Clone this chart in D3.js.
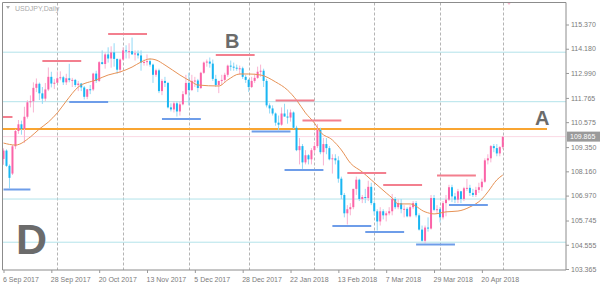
<!DOCTYPE html>
<html>
<head>
<meta charset="utf-8">
<script src="https://cdnjs.cloudflare.com/ajax/libs/d3/7.8.5/d3.min.js"></script>
<style>
body{margin:0;background:#fff;}
text{font-family:"Liberation Sans",Arial,sans-serif;}
</style>
</head>
<body>
<div id="plot"></div>
<script>
// USDJPY daily, 6 Sep 2017 .. 1 May 2018 (one entry per trading day)
var open = [108.77,109.18,108.43,108.05,109.39,110.14,110.47,110.24,110.84,111.55,111.60,112.26,112.46,111.99,111.73,112.18,112.80,112.47,
  112.51,112.73,112.78,112.53,112.73,112.64,112.65,112.40,112.47,112.28,111.82,112.19,112.18,112.96,112.60,113.52,113.43,113.90,113.70,114.00,113.68,113.15,
  113.65,114.10,114.05,114.06,113.90,113.95,113.85,113.50,113.53,113.57,113.40,112.90,113.12,112.10,112.60,112.50,111.30,111.20,111.50,111.10,111.45,111.95,
  112.50,112.15,112.60,112.62,112.25,113.00,113.50,113.55,113.45,112.70,112.40,112.60,112.65,112.90,113.35,113.30,113.25,113.20,113.22,112.80,
  112.65,112.30,112.60,112.75,113.05,113.10,112.60,111.40,111.25,111.00,110.55,110.45,111.00,110.85,110.80,111.05,110.30,109.20,109.40,108.60,108.95,108.75,
  109.20,109.40,110.20,109.10,109.50,109.30,108.75,108.80,108.70,107.80,107.00,106.10,106.30,106.40,107.30,107.75,106.80,106.90,106.85,107.40,
  106.60,106.20,105.70,106.20,106.00,106.10,106.20,106.80,106.40,106.60,106.30,106.32,105.95,106.40,106.60,106.00,105.30,104.75,105.40,105.35,106.85,106.27,
  106.30,105.90,106.60,106.77,107.38,106.93,106.77,107.18,106.80,107.33,107.35,107.10,107.00,107.25,107.38,107.65,108.70,108.80,109.40,109.30,109.04,
  109.35];
var high = [109.29,109.24,108.50,109.46,110.23,110.68,110.65,111.33,111.65,111.89,112.53,112.72,112.52,112.30,112.50,113.26,113.05,112.70,
  113.07,113.07,112.85,112.95,113.44,112.75,112.70,112.60,112.50,112.35,112.20,112.40,113.00,113.10,113.57,114.10,114.00,114.25,114.30,114.45,113.70,113.70,
  114.25,114.35,114.45,114.73,114.10,114.10,114.10,113.65,113.90,113.70,113.45,113.20,113.20,112.70,112.80,112.55,111.50,111.60,111.60,111.60,112.10,112.90,
  113.00,112.90,112.80,112.70,113.05,113.55,113.65,113.75,113.65,112.90,112.60,112.90,113.00,113.40,113.60,113.50,113.40,113.35,113.30,112.90,
  112.70,112.80,112.95,113.30,113.40,113.20,112.70,111.50,111.40,111.05,110.90,111.30,111.48,111.20,111.20,111.10,110.40,109.80,109.50,109.20,109.00,109.30,
  109.60,110.48,110.30,109.80,109.80,109.40,109.00,109.00,108.90,107.90,107.10,106.50,106.60,107.30,107.90,107.80,107.00,107.30,107.70,107.60,
  106.70,106.30,106.40,106.30,106.20,106.40,107.05,106.90,106.80,106.80,106.50,106.40,106.50,106.70,106.70,106.10,105.50,105.50,105.90,107.00,107.00,106.50,
  106.40,106.70,107.00,107.50,107.50,107.10,107.30,107.20,107.40,107.78,107.50,107.30,107.40,107.60,107.80,108.80,109.00,109.45,109.50,109.50,109.40,
  109.90];
var low = [108.48,108.38,107.32,107.98,109.25,110.00,109.96,109.56,110.75,111.30,111.05,112.05,111.66,111.47,111.60,112.10,112.28,112.20,
  112.50,112.63,112.40,112.40,112.53,112.30,112.30,112.10,112.10,111.69,111.70,111.95,112.10,112.50,112.55,113.40,113.20,113.50,113.25,113.30,112.95,113.00,
  113.60,113.70,113.70,113.90,113.60,113.70,113.10,113.35,113.35,113.30,112.50,112.80,112.00,111.90,112.30,111.25,111.10,111.05,110.85,110.90,111.40,111.90,
  111.40,112.10,112.30,112.05,112.20,112.95,113.30,113.25,112.60,112.30,112.00,112.40,112.50,112.80,113.10,113.10,113.10,112.90,112.70,112.50,
  112.05,112.25,112.50,112.70,112.80,112.30,111.30,111.00,110.90,110.40,110.18,110.40,110.85,110.50,110.60,110.25,109.15,108.50,108.28,108.50,108.50,108.50,
  109.05,109.30,109.00,108.45,109.00,108.70,108.05,108.50,107.60,106.80,105.90,105.55,106.00,106.30,107.00,106.70,106.60,106.60,106.70,106.50,
  106.00,105.25,105.50,105.80,105.70,106.00,106.00,106.30,106.30,106.10,105.90,105.90,105.90,106.30,105.90,105.25,104.70,104.63,105.20,105.30,106.20,106.10,
  105.65,105.80,105.95,106.70,106.65,106.60,106.60,106.60,106.70,107.20,106.95,106.90,106.90,107.10,107.20,107.60,108.50,108.60,109.10,108.90,108.90,
  109.25];
var close = [109.18,108.43,107.84,109.39,110.14,110.47,110.24,110.84,111.55,111.60,112.26,112.46,111.99,111.73,112.18,112.80,112.47,112.51,
  112.73,112.78,112.53,112.73,112.64,112.65,112.40,112.47,112.28,111.82,112.19,112.18,112.96,112.60,113.52,113.43,113.90,113.70,114.00,113.68,113.15,113.65,
  114.10,114.05,114.06,113.90,113.95,113.85,113.50,113.53,113.57,113.40,112.90,113.12,112.10,112.60,112.50,111.30,111.20,111.50,111.10,111.45,111.95,112.50,
  112.15,112.60,112.62,112.25,113.00,113.50,113.55,113.45,112.70,112.40,112.60,112.65,112.90,113.35,113.30,113.25,113.20,113.22,112.80,112.65,
  112.30,112.60,112.75,113.05,113.10,112.60,111.40,111.25,111.00,110.55,110.45,111.00,110.85,110.80,111.05,110.30,109.20,109.40,108.60,108.95,108.75,109.20,
  109.40,110.20,109.10,109.50,109.30,108.75,108.80,108.70,107.80,107.00,106.10,106.30,106.40,107.30,107.75,106.80,106.90,106.85,107.40,106.60,
  106.20,105.70,106.20,106.00,106.10,106.20,106.80,106.40,106.60,106.30,106.32,105.95,106.40,106.60,106.00,105.30,104.75,105.40,105.35,106.85,106.27,106.30,
  105.90,106.60,106.77,107.38,106.93,106.77,107.18,106.80,107.33,107.35,107.10,107.00,107.25,107.38,107.65,108.70,108.80,109.40,109.30,109.04,109.35,
  109.85];

// moving average: [bar index, value]
var maIdx = [0,4,9,12,15,18,21,25,31,35,39,43,46,49,51,54,59,63,65,72,75,79,82,86,91,95,98,101,104,106,110,113,116,120,123,128,130,132,136,141,144,148,152,156,160,162,165,167];
var maVal = [109.55,109.45,109.85,110.24,110.58,111.03,111.61,112.30,112.65,112.89,113.04,113.28,113.53,113.68,113.63,113.38,112.89,112.55,112.40,112.35,112.65,112.94,112.94,112.89,112.55,112.15,111.66,111.03,110.53,110.09,109.70,109.21,108.57,108.13,107.74,107.10,106.85,106.56,106.56,106.17,106.07,106.17,106.21,106.41,106.80,107.15,107.74,107.98];

// resistance (red) and support (blue) segments: start bar, end bar, price
var resStart = [-1,13,35,71,91,100,115,127,145];
var resEnd   = [3,26,48,84,104,113,128,140,158];
var resPrice = [110.83,113.58,114.90,113.87,111.64,110.66,108.08,107.49,107.95];
var supStart = [0,22,53,83,94,110,121,138,149];
var supEnd   = [9,35,66,96,107,123,134,151,162];
var supPrice = [107.27,111.57,110.73,110.12,108.23,105.48,105.18,104.57,106.51];

var hLines = [114.01,111.58,106.80,104.68];
var keyLevel = 110.24;
var lastPrice = 109.865;

var yTicks = [115.370,114.180,112.990,111.765,110.575,109.350,108.160,106.970,105.745,104.555,103.365];
var xTickIdx = [0,16,32,48,64,80,96,112,128,144,160];
var xTickText = ['6 Sep 2017','28 Sep 2017','20 Oct 2017','13 Nov 2017','5 Dec 2017','28 Dec 2017','22 Jan 2018','13 Feb 2018','7 Mar 2018','29 Mar 2018','20 Apr 2018'];
var monthIdx = [18,40,62,82,104,124,146,167];

var W = 600, H = 289;
var box = {l:2.5, t:2.5, r:566, b:270};

var svg = d3.select('#plot').append('svg')
  .attr('width', W).attr('height', H)
  .style('display','block');
svg.append('rect').attr('width',W).attr('height',H).attr('fill','#fff');

var x = d3.scaleLinear().domain([0,167]).range([3.5,502.8]);
var y = d3.scaleLinear().domain([103.365,115.37]).range([269,24.5]);

var plot = svg.append('g');
svg.append('clipPath').attr('id','clip').append('rect')
  .attr('x',box.l).attr('y',box.t).attr('width',box.r-box.l).attr('height',box.b-box.t);
plot.attr('clip-path','url(#clip)');

// month grid
plot.selectAll('.vgrid').data(monthIdx).enter().append('line')
  .attr('x1',function(d){return Math.round(x(d))+0.5;})
  .attr('x2',function(d){return Math.round(x(d))+0.5;})
  .attr('y1',box.t).attr('y2',box.b)
  .attr('stroke','#b4b4b4').attr('stroke-dasharray','3,2');

// light horizontal levels
plot.selectAll('.hl').data(hLines).enter().append('line')
  .attr('x1',box.l).attr('x2',box.r)
  .attr('y1',function(d){return y(d);}).attr('y2',function(d){return y(d);})
  .attr('stroke','#b3e3ea').attr('stroke-width',1);

// current price line
plot.append('line').attr('x1',box.l).attr('x2',box.r)
  .attr('y1',y(lastPrice)).attr('y2',y(lastPrice))
  .attr('stroke','#fbd9e4').attr('stroke-width',1);

// key level
plot.append('line').attr('x1',0).attr('x2',547)
  .attr('y1',y(keyLevel)).attr('y2',y(keyLevel))
  .attr('stroke','#f9a531').attr('stroke-width',2);

// candles
var idx = d3.range(open.length);
var bullBody='#fb64a8', bullWick='#f9b3d1', bearBody='#19b6f2', bearWick='#93d9f6';
plot.selectAll('.wick').data(idx).enter().append('line')
  .attr('x1',function(i){return x(i);}).attr('x2',function(i){return x(i);})
  .attr('y1',function(i){return y(high[i]);}).attr('y2',function(i){return y(low[i]);})
  .attr('stroke',function(i){return close[i]>=open[i]?bullWick:bearWick;})
  .attr('stroke-width',1);
plot.selectAll('.body').data(idx).enter().append('rect')
  .attr('x',function(i){return x(i)-1;})
  .attr('width',2)
  .attr('y',function(i){return y(Math.max(open[i],close[i]));})
  .attr('height',function(i){return Math.max(1,Math.abs(y(open[i])-y(close[i])));})
  .attr('fill',function(i){return close[i]>=open[i]?bullBody:bearBody;});

// moving average
var maLine = d3.line()
  .x(function(d,i){return x(maIdx[i]);})
  .y(function(d){return y(d);})
  .curve(d3.curveMonotoneX);
plot.append('path').datum(maVal).attr('d',maLine)
  .attr('fill','none').attr('stroke','#e69155').attr('stroke-width',1);

// segments
plot.selectAll('.res').data(resPrice).enter().append('line')
  .attr('x1',function(d,i){return x(resStart[i]);}).attr('x2',function(d,i){return x(resEnd[i]);})
  .attr('y1',function(d){return y(d);}).attr('y2',function(d){return y(d);})
  .attr('stroke','#f37f8e').attr('stroke-width',2);
plot.selectAll('.sup').data(supPrice).enter().append('line')
  .attr('x1',function(d,i){return x(supStart[i]);}).attr('x2',function(d,i){return x(supEnd[i]);})
  .attr('y1',function(d){return y(d);}).attr('y2',function(d){return y(d);})
  .attr('stroke','#6e9de9').attr('stroke-width',2);

// small marker top right
plot.append('path').attr('d','M505,0 L513,0 L509,5 Z').attr('fill','#f9b6cc');

// frame
svg.append('path')
  .attr('d','M'+box.l+','+box.b+' L'+box.l+','+box.t+' L'+box.r+','+box.t+' L'+box.r+','+box.b+' Z')
  .attr('fill','none').attr('stroke','#8c8c8c').attr('stroke-width',1);

// y axis
var yAxis = d3.axisRight(y).tickValues(yTicks).tickFormat(d3.format('.3f')).tickSize(3).tickPadding(2);
var gy = svg.append('g').attr('transform','translate('+box.r+',0)').call(yAxis);
gy.select('.domain').remove();
gy.selectAll('line').attr('stroke','#999');
gy.selectAll('text').attr('fill','#7b7b7b').style('font-size','7px');

// price box
svg.append('rect').attr('x',567).attr('y',y(lastPrice)-5).attr('width',33).attr('height',10).attr('fill','#9a9a9a');
svg.append('text').attr('x',570).attr('y',y(lastPrice)+2.5).text(lastPrice.toFixed(3))
  .attr('fill','#fff').style('font-size','7px');

// x axis
var xAxis = d3.axisBottom(x).tickValues(xTickIdx)
  .tickFormat(function(d,i){return xTickText[i];}).tickSize(3).tickPadding(4);
var gx = svg.append('g').attr('transform','translate(0,'+box.b+')').call(xAxis);
gx.select('.domain').remove();
gx.selectAll('line').attr('stroke','#999');
gx.selectAll('text').attr('fill','#7b7b7b').style('font-size','7px')
  .attr('text-anchor','start').attr('dx','-1');

// title
svg.append('path').attr('d','M6,6 L10,6 L8,9 Z').attr('fill','#aaa');
svg.append('text').attr('x',15).attr('y',11).text('USDJPY,Daily')
  .attr('fill','#aaa').style('font-size','7px');

// annotation letters
var notes = [{t:'A',x:535,y:125,s:20},{t:'B',x:225,y:48,s:20},{t:'D',x:16,y:254,s:43}];
svg.selectAll('.note').data(notes).enter().append('text')
  .attr('x',function(d){return d.x;}).attr('y',function(d){return d.y;})
  .text(function(d){return d.t;})
  .style('font-size',function(d){return d.s+'px';})
  .style('font-weight','bold').attr('fill','#6b6b6b');
</script>
</body>
</html>
